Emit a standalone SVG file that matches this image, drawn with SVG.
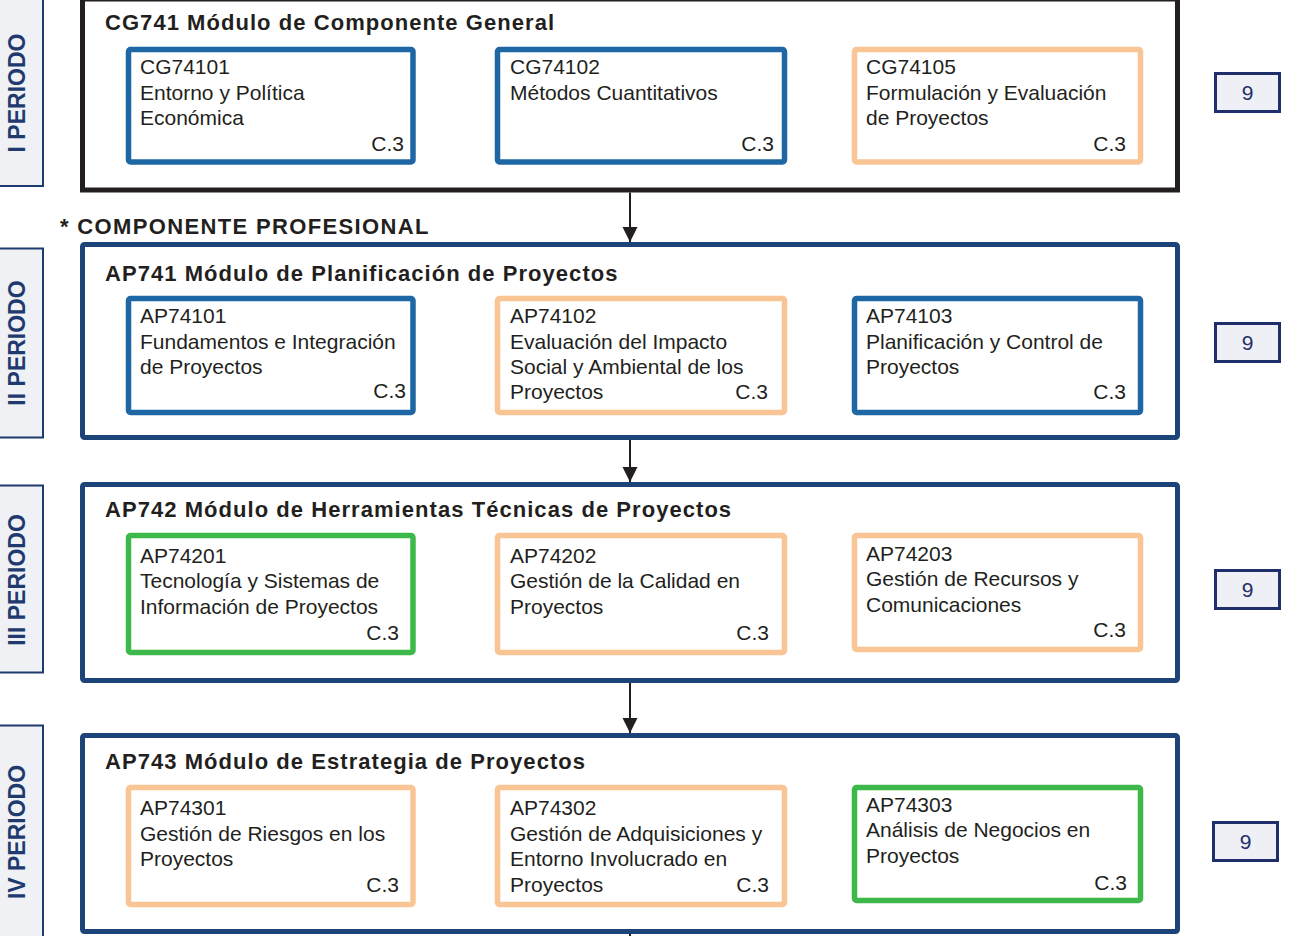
<svg xmlns="http://www.w3.org/2000/svg" width="1292" height="936" viewBox="0 0 1292 936">
<style>
.per{fill:#eff1f5;stroke:#1f3a6e;stroke-width:2}
.pt{font-family:"Liberation Sans",Arial,sans-serif;font-weight:bold;font-size:23px;fill:#1f3a6e;text-anchor:middle}
.mod{fill:#fff;stroke:#1c4478;stroke-width:5}
.mod0{fill:#fff;stroke:#231f20;stroke-width:5}
.mt{font-family:"Liberation Sans",Arial,sans-serif;font-weight:bold;font-size:22px;fill:#231f20;letter-spacing:1.05px}
.cb{fill:#fff;stroke:#1f67a4;stroke-width:5.5}
.co{fill:#fff;stroke:#f9c595;stroke-width:5.5}
.cg{fill:#fff;stroke:#3db84a;stroke-width:5.5}
.ct{font-family:"Liberation Sans",Arial,sans-serif;font-size:21px;fill:#231f20}
.cr{font-family:"Liberation Sans",Arial,sans-serif;font-size:21px;fill:#231f20;text-anchor:end}
.nb{fill:#eef0f5;stroke:#1f2f6b;stroke-width:3}
.nt{font-family:"Liberation Sans",Arial,sans-serif;font-size:21px;fill:#1f2f6b;text-anchor:middle}
.conn{stroke:#231f20;stroke-width:2;fill:none}
</style>
<defs>
<marker id="ah" markerUnits="userSpaceOnUse" markerWidth="16" markerHeight="16" refX="15" refY="7.5" orient="auto">
<path d="M0,0 L15,7.5 L0,15 z" fill="#231f20"/>
</marker>
</defs>

<g id="periods">
<g id="p1"><rect class="per" x="-5" y="-5" width="48" height="191"/><text class="pt" transform="translate(25,93) rotate(-90)">I PERIODO</text></g>
<g id="p2"><rect class="per" x="-5" y="248.5" width="48" height="189"/><text class="pt" transform="translate(25,343) rotate(-90)">II PERIODO</text></g>
<g id="p3"><rect class="per" x="-5" y="485.5" width="48" height="187"/><text class="pt" transform="translate(25,580) rotate(-90)">III PERIODO</text></g>
<g id="p4"><rect class="per" x="-5" y="725.5" width="48" height="220"/><text class="pt" transform="translate(25,832) rotate(-90)">IV PERIODO</text></g>
</g>

<g id="connectors">
<line class="conn" x1="630" y1="192.5" x2="630" y2="242" marker-end="url(#ah)"/>
<line class="conn" x1="630" y1="440" x2="630" y2="482" marker-end="url(#ah)"/>
<line class="conn" x1="630" y1="683" x2="630" y2="733" marker-end="url(#ah)"/>
<line class="conn" x1="630" y1="934" x2="630" y2="940"/>
</g>

<g id="m1">
<rect class="mod0" x="82.5" y="-1" width="1095" height="191"/>
<text class="mt" x="105" y="30">CG741 Módulo de Componente General</text>
</g>
<text id="comp-prof" class="mt" x="60" y="234" style="letter-spacing:1.35px">* COMPONENTE PROFESIONAL</text>
<g id="m2">
<rect class="mod" x="82.5" y="244.5" width="1095" height="193" rx="2"/>
<text class="mt" x="105" y="281">AP741 Módulo de Planificación de Proyectos</text>
</g>
<g id="m3">
<rect class="mod" x="82.5" y="484.5" width="1095" height="196" rx="2"/>
<text class="mt" x="105" y="517">AP742 Módulo de Herramientas Técnicas de Proyectos</text>
</g>
<g id="m4">
<rect class="mod" x="82.5" y="735.5" width="1095" height="196" rx="2"/>
<text class="mt" x="105" y="769">AP743 Módulo de Estrategia de Proyectos</text>
</g>

<g id="CG74101"><rect class="cb" x="128.5" y="49.5" width="284.5" height="112.5" rx="2"/>
<text class="ct" x="140" y="74">CG74101</text><text class="ct" x="140" y="100">Entorno y Política</text><text class="ct" x="140" y="125">Económica</text><text class="cr" x="404" y="151">C.3</text></g>
<g id="CG74102"><rect class="cb" x="497.5" y="49.5" width="287" height="112.5" rx="2"/>
<text class="ct" x="510" y="74">CG74102</text><text class="ct" x="510" y="100">Métodos Cuantitativos</text><text class="cr" x="774" y="151">C.3</text></g>
<g id="CG74105"><rect class="co" x="854.5" y="49.5" width="286" height="112.5" rx="2"/>
<text class="ct" x="866" y="74">CG74105</text><text class="ct" x="866" y="100">Formulación y Evaluación</text><text class="ct" x="866" y="125">de Proyectos</text><text class="cr" x="1126" y="151">C.3</text></g>

<g id="AP74101"><rect class="cb" x="128.5" y="298.5" width="284.5" height="114" rx="2"/>
<text class="ct" x="140" y="323">AP74101</text><text class="ct" x="140" y="349">Fundamentos e Integración</text><text class="ct" x="140" y="374">de Proyectos</text><text class="cr" x="406" y="398">C.3</text></g>
<g id="AP74102"><rect class="co" x="497.5" y="298.5" width="287" height="114" rx="2"/>
<text class="ct" x="510" y="323">AP74102</text><text class="ct" x="510" y="349">Evaluación del Impacto</text><text class="ct" x="510" y="374">Social y Ambiental de los</text><text class="ct" x="510" y="399">Proyectos</text><text class="cr" x="768" y="399">C.3</text></g>
<g id="AP74103"><rect class="cb" x="854.5" y="298.5" width="286" height="114" rx="2"/>
<text class="ct" x="866" y="323">AP74103</text><text class="ct" x="866" y="349">Planificación y Control de</text><text class="ct" x="866" y="374">Proyectos</text><text class="cr" x="1126" y="399">C.3</text></g>

<g id="AP74201"><rect class="cg" x="128.5" y="535.5" width="284.5" height="117" rx="2"/>
<text class="ct" x="140" y="563">AP74201</text><text class="ct" x="140" y="588">Tecnología y Sistemas de</text><text class="ct" x="140" y="614">Información de Proyectos</text><text class="cr" x="399" y="640">C.3</text></g>
<g id="AP74202"><rect class="co" x="497.5" y="535.5" width="287" height="117" rx="2"/>
<text class="ct" x="510" y="563">AP74202</text><text class="ct" x="510" y="588">Gestión de la Calidad en</text><text class="ct" x="510" y="614">Proyectos</text><text class="cr" x="769" y="640">C.3</text></g>
<g id="AP74203"><rect class="co" x="854.5" y="535.5" width="286" height="114" rx="2"/>
<text class="ct" x="866" y="561">AP74203</text><text class="ct" x="866" y="586">Gestión de Recursos y</text><text class="ct" x="866" y="612">Comunicaciones</text><text class="cr" x="1126" y="637">C.3</text></g>

<g id="AP74301"><rect class="co" x="128.5" y="787.5" width="284.5" height="117" rx="2"/>
<text class="ct" x="140" y="815">AP74301</text><text class="ct" x="140" y="841">Gestión de Riesgos en los</text><text class="ct" x="140" y="866">Proyectos</text><text class="cr" x="399" y="892">C.3</text></g>
<g id="AP74302"><rect class="co" x="497.5" y="787.5" width="287" height="117" rx="2"/>
<text class="ct" x="510" y="815">AP74302</text><text class="ct" x="510" y="841">Gestión de Adquisiciones y</text><text class="ct" x="510" y="866">Entorno Involucrado en</text><text class="ct" x="510" y="892">Proyectos</text><text class="cr" x="769" y="892">C.3</text></g>
<g id="AP74303"><rect class="cg" x="854.5" y="787.5" width="286" height="113" rx="2"/>
<text class="ct" x="866" y="812">AP74303</text><text class="ct" x="866" y="837">Análisis de Negocios en</text><text class="ct" x="866" y="863">Proyectos</text><text class="cr" x="1127" y="890">C.3</text></g>

<g id="credits">
<g id="cr1"><rect class="nb" x="1215.5" y="73.5" width="64" height="38"/><text class="nt" x="1247.5" y="100">9</text></g>
<g id="cr2"><rect class="nb" x="1215.5" y="323.5" width="64" height="38"/><text class="nt" x="1247.5" y="350">9</text></g>
<g id="cr3"><rect class="nb" x="1215.5" y="570.5" width="64" height="38"/><text class="nt" x="1247.5" y="597">9</text></g>
<g id="cr4"><rect class="nb" x="1213.5" y="822.5" width="64" height="38"/><text class="nt" x="1245.5" y="849">9</text></g>
</g>
</svg>
